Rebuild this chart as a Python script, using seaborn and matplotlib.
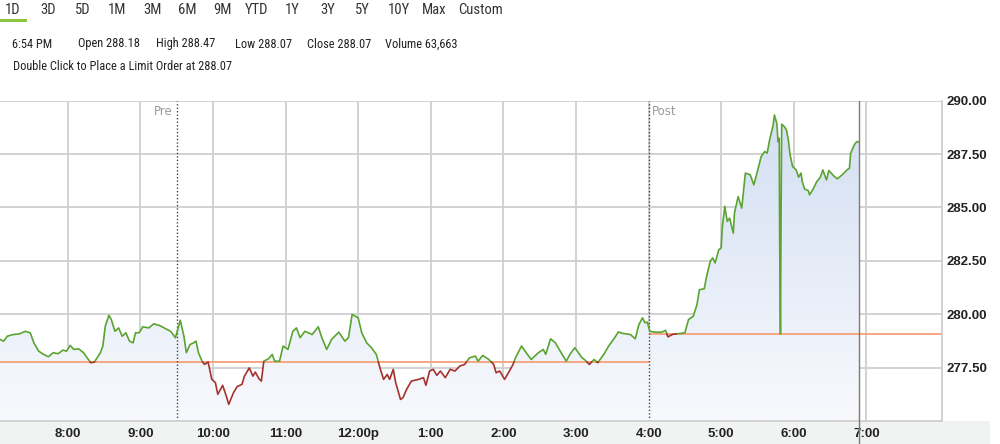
import numpy as np
import pandas as pd
import seaborn as sns
import matplotlib.pyplot as plt
from matplotlib import font_manager
from matplotlib.colors import LinearSegmentedColormap
from matplotlib.patches import Rectangle

# intraday prices, minutes after midnight
pre_minutes = [424, 427, 430, 435, 440, 445, 449, 452, 456, 460,
               464, 468, 472, 476, 479, 482, 485, 489, 493, 496,
               499, 502, 507, 509, 511, 514, 516, 519, 522, 525,
               528, 531, 534, 536, 539, 542, 547, 551, 556, 562,
               565, 569]
pre_prices = [278.82, 278.74, 278.97, 279.05, 279.08, 279.20, 279.13, 278.66, 278.27, 278.12,
              278.01, 278.20, 278.15, 278.32, 278.27, 278.54, 278.35, 278.38, 278.20, 277.96,
              277.73, 277.76, 278.20, 278.51, 279.44, 279.95, 279.75, 279.20, 279.36, 278.97,
              279.13, 278.74, 278.66, 279.13, 279.13, 279.41, 279.36, 279.55, 279.47, 279.29,
              279.20, 278.90]

reg_minutes = [573, 576, 578, 581, 584, 586, 588, 591, 593, 596,
               599, 602, 604, 608, 611, 613, 617, 620, 624, 626,
               630, 633, 635, 638, 640, 642, 646, 649, 651, 655,
               658, 662, 666, 669, 672, 676, 682, 687, 690, 694,
               698, 704, 709, 712, 715, 720, 723, 727, 731, 735,
               738, 741, 744, 746, 749, 751, 755, 757, 760, 764,
               770, 774, 776, 779, 782, 785, 788, 792, 796, 800,
               804, 808, 812, 817, 819, 823, 828, 832, 834, 837,
               841, 845, 848, 850, 855, 858, 863, 869, 873, 875,
               879, 883, 887, 892, 895, 899, 902, 905, 907, 911,
               915, 918, 923, 927, 932, 935, 939, 945, 949, 952,
               955, 957, 959]
reg_prices = [279.72, 278.97, 278.20, 278.58, 278.66, 278.74, 278.20, 277.80, 277.65, 277.76,
              276.95, 276.80, 276.25, 276.67, 276.17, 275.78, 276.33, 276.61, 276.72, 277.10,
              277.49, 277.10, 277.29, 276.98, 276.87, 277.80, 277.92, 278.12, 277.80, 277.80,
              278.51, 278.35, 279.20, 279.36, 278.90, 279.20, 279.05, 279.41, 278.90, 278.35,
              278.82, 279.16, 278.74, 278.90, 279.99, 279.83, 279.13, 278.66, 278.43, 278.12,
              277.49, 276.95, 277.18, 276.95, 277.42, 276.80, 276.01, 276.09, 276.48, 276.87,
              276.95, 277.03, 276.67, 277.34, 277.42, 277.14, 277.34, 277.03, 277.42, 277.34,
              277.57, 277.65, 277.96, 278.04, 277.80, 278.07, 277.88, 277.65, 277.26, 277.34,
              276.95, 277.34, 277.65, 277.96, 278.51, 278.27, 277.88, 278.20, 278.35, 278.12,
              278.85, 278.66, 278.27, 277.80, 278.12, 278.43, 278.20, 277.96, 277.88, 277.65,
              277.88, 277.73, 278.12, 278.51, 278.90, 279.17, 279.10, 279.05, 278.85, 279.52,
              279.83, 279.60, 279.63]

post_minutes = [961, 965, 971, 974, 976, 980, 986, 990, 993, 997,
                1000, 1002, 1006, 1008, 1011, 1013, 1015, 1018, 1020, 1021,
                1023, 1025, 1027, 1030, 1031, 1034, 1037, 1040, 1044, 1047,
                1051, 1053, 1056, 1058, 1060, 1063, 1064, 1066, 1067, 1068,
                1068.3, 1069, 1069.4, 1070, 1072, 1074, 1075.5, 1077, 1079, 1082,
                1084, 1086, 1087, 1089, 1092, 1093, 1096, 1099, 1102, 1104,
                1107, 1109, 1113, 1116, 1120, 1124, 1126, 1127, 1130, 1132, 1134]
post_prices = [279.20, 279.16, 279.16, 279.25, 278.94, 279.06, 279.10, 279.13, 279.75, 279.91,
               280.45, 281.15, 281.19, 281.78, 282.48, 282.64, 282.40, 283.02, 283.10, 284.11,
               285.05, 284.35, 284.50, 283.80, 284.74, 285.51, 284.97, 286.61, 286.53, 286.06,
               286.92, 287.38, 287.62, 287.54, 288.16, 288.86, 289.33, 288.94, 288.08, 288.24,
               283.72, 279.08, 283.72, 288.90, 288.80, 288.63, 288.16, 287.46, 286.92, 286.76,
               286.42, 286.61, 286.21, 285.86, 285.79, 285.59, 285.86, 286.21, 286.42, 286.76,
               286.29, 286.73, 286.48, 286.34, 286.53, 286.76, 286.84, 287.54, 287.93, 288.08, 288.07]

prev_close = 277.76
reg_close = 279.08
open_min = 570    # 9:30
close_min = 960   # 16:00
cursor_min = 1134  # 6:54 PM

tick_minutes = [480, 540, 600, 660, 720, 780, 840, 900, 960, 1020, 1080, 1140]
tick_labels = ["8:00", "9:00", "10:00", "11:00", "12:00p", "1:00", "2:00",
               "3:00", "4:00", "5:00", "6:00", "7:00"]
price_ticks = [277.5, 280.0, 282.5, 285.0, 287.5, 290.0]

tabs = ["1D", "3D", "5D", "1M", "3M", "6M", "9M", "YTD", "1Y", "3Y", "5Y", "10Y", "Max", "Custom"]
tab_x = [5, 40, 75, 108, 143, 178, 213, 245, 285, 320, 355, 388, 422, 458]
info = ["6:54 PM", "Open 288.18", "High 288.47", "Low 288.07", "Close 288.07", "Volume 63,663"]
info_x = [12, 78, 156, 235, 307, 385]
order_text = "Double Click to Place a Limit Order at 288.07"

x_min, x_max = 424, 1202.5
y_min, y_max = 275.0, 290.0

minutes = pre_minutes + reg_minutes + post_minutes
prices = pre_prices + reg_prices + post_prices


def ref(t):
    return prev_close if t < close_min else reg_close


# split the line into green / red pieces around the reference close
rows = []
seg = 0
cur = "up" if prices[0] >= ref(minutes[0]) else "down"
rows.append((minutes[0], prices[0], seg, cur))
for i in range(1, len(minutes)):
    t, p = minutes[i], prices[i]
    s = "up" if p >= ref(t) else "down"
    if s != cur:
        r = ref(t)
        t0, p0 = minutes[i - 1], prices[i - 1]
        tc = t0 + (r - p0) / (p - p0) * (t - t0)
        rows.append((tc, r, seg, cur))
        seg += 1
        rows.append((tc, r, seg, s))
        cur = s
    rows.append((t, p, seg, cur))
df = pd.DataFrame(rows, columns=["t", "price", "seg", "side"])

# pick a narrow font for the header if one is installed
fonts = font_manager.fontManager.ttflist
names = {f.name for f in fonts}
head_font = dict(family="Roboto", fontsize=8.5)
tab_font = dict(family="Roboto", fontsize=9.5)
if "Roboto Condensed" in names:
    head_font = dict(family="Roboto Condensed", fontsize=8.9)
    tab_font = dict(family="Roboto Condensed", fontsize=10.5)
elif "Liberation Sans Narrow" in names:
    head_font = dict(family="Liberation Sans Narrow", fontsize=8.9)
    tab_font = dict(family="Liberation Sans Narrow", fontsize=10.5)

sns.set_theme(style="white")
plt.rcParams["font.family"] = ["Roboto", "DejaVu Sans"]

fig = plt.figure(figsize=(10, 4.44), dpi=100)
ax = fig.add_axes([0, 23 / 444, 942 / 1000, 320.3 / 444])

# grey band behind the time labels
fig.patches.append(Rectangle((0, 0), 0.99, 23 / 444, transform=fig.transFigure,
                             facecolor="#f1f2f2", edgecolor="none", zorder=-1))

# gradient area under the price line
poly = ax.fill_between(minutes, prices, y_min, color="none", lw=0)
cmap = LinearSegmentedColormap.from_list("area", ["#f8f9fd", "#d2def2"])
grad = np.linspace(0, 1, 256).reshape(-1, 1)
img = ax.imshow(grad, extent=[x_min, x_max, y_min, y_max], origin="lower",
                aspect="auto", cmap=cmap, zorder=1)
img.set_clip_path(poly.get_paths()[0], transform=ax.transData)

ax.hlines(prev_close, x_min, close_min, color="#f6a682", lw=1.4, zorder=2)
ax.hlines(reg_close, close_min, x_max, color="#f6a682", lw=1.4, zorder=2)

sns.lineplot(data=df, x="t", y="price", units="seg", hue="side", estimator=None,
             sort=False, palette={"up": "#5aa431", "down": "#a5322c"},
             lw=1.2, legend=False, ax=ax, zorder=3)

for m in (open_min, close_min):
    ax.axvline(m, color="#444444", lw=1, ls=(0, (1, 1.5)), zorder=2)
ax.text(open_min - 3, 289.5, "Pre", ha="right", va="center", color="#9a9a9a", fontsize=8.5,
        family="DejaVu Sans")
ax.text(close_min + 3, 289.5, "Post", ha="left", va="center", color="#9a9a9a", fontsize=8.5,
        family="DejaVu Sans")

ax.axvline(cursor_min, ymin=-23 / 320.3, ymax=1, color="#7a7a7a", lw=1, clip_on=False, zorder=4)

ax.set_xlim(x_min, x_max)
ax.set_ylim(y_min, y_max)
ax.set_xticks(tick_minutes)
ax.set_xticklabels(tick_labels)
ax.set_yticks(price_ticks)
ax.set_yticklabels([f"{v:.2f}" for v in price_ticks])
ax.yaxis.tick_right()
ax.grid(True, color="#cfcfcf", lw=1.3, zorder=0)
ax.set_axisbelow(True)
ax.tick_params(axis="both", length=0, labelcolor="#222222")
ax.tick_params(axis="x", pad=5, labelbottom=True)
ax.tick_params(axis="y", pad=3)
for lab in ax.get_xticklabels() + ax.get_yticklabels():
    lab.set_family("Liberation Sans")
    lab.set_fontweight("bold")
    lab.set_fontsize(9.5)
ax.set_xlabel("")
ax.set_ylabel("")
for side in ("top", "left"):
    ax.spines[side].set_visible(False)
for side in ("right", "bottom"):
    ax.spines[side].set_color("#cfcfcf")
    ax.spines[side].set_linewidth(1.3)

# header
for label, x in zip(tabs, tab_x):
    fig.text(x / 1000, 1 - 10 / 444, label, ha="left", va="center", color="#333333", **tab_font)
fig.patches.append(Rectangle((0, 1 - 22 / 444), 27 / 1000, 2.5 / 444, transform=fig.transFigure,
                             facecolor="#8cc63f", edgecolor="none"))
for label, x in zip(info, info_x):
    fig.text(x / 1000, 1 - 44 / 444, label, ha="left", va="center", color="#222222", **head_font)
fig.text(13 / 1000, 1 - 67 / 444, order_text, ha="left", va="center", color="#222222", **head_font)

fig.savefig("out.png", dpi=100)
